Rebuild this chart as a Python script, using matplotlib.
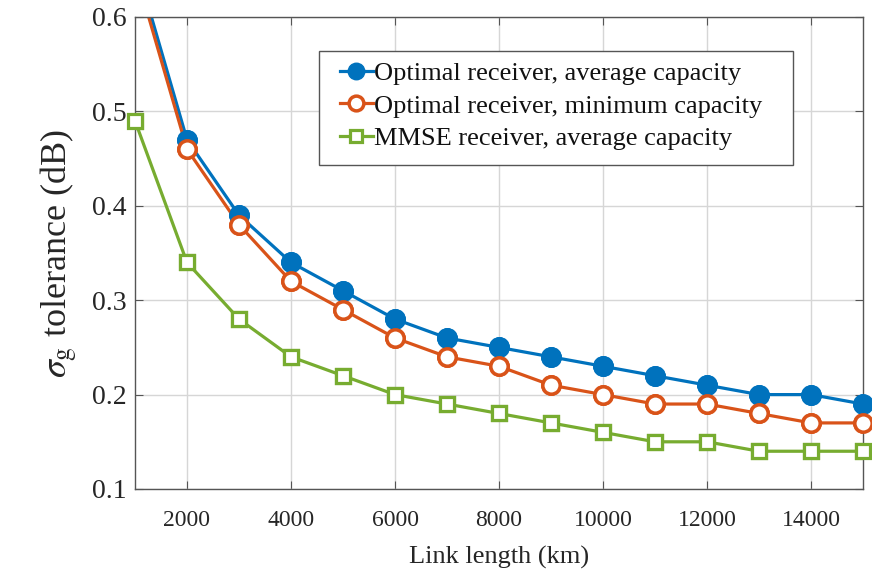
import numpy as np
import matplotlib.pyplot as plt
from matplotlib.patches import Rectangle

plt.rcParams['font.family'] = ['Liberation Serif', 'DejaVu Serif']
plt.rcParams['mathtext.fontset'] = 'stix'

link_km = np.arange(1000, 16000, 1000)
opt_avg = [0.66, 0.47, 0.39, 0.34, 0.31, 0.28, 0.26, 0.25, 0.24, 0.23, 0.22, 0.21, 0.20, 0.20, 0.19]
opt_min = [0.65, 0.46, 0.38, 0.32, 0.29, 0.26, 0.24, 0.23, 0.21, 0.20, 0.19, 0.19, 0.18, 0.17, 0.17]
mmse_avg = [0.49, 0.34, 0.28, 0.24, 0.22, 0.20, 0.19, 0.18, 0.17, 0.16, 0.15, 0.15, 0.14, 0.14, 0.14]
labels = ['Optimal receiver, average capacity',
          'Optimal receiver, minimum capacity',
          'MMSE receiver, average capacity']

styles = [
    dict(color='#0072BD', marker='o', ms=14, mfc='#0072BD', mec='#0072BD', mew=1),
    dict(color='#D95319', marker='o', ms=12.5, mfc='white', mec='#D95319', mew=2.5),
    dict(color='#77AC30', marker='s', ms=10, mfc='white', mec='#77AC30', mew=2.3),
]

W, H = 872, 575
fig = plt.figure(figsize=(W/100, H/100), dpi=100)
ax = fig.add_axes([135/W, 1-489/H, 728/W, 472/H])
ymin, ymax = 0.1, 0.6

for vals, lab, st in zip([opt_avg, opt_min, mmse_avg], labels, styles):
    vals = np.array(vals)
    # line clipped at the axes box, markers inside the range drawn whole
    ax.plot(link_km, vals, lw=2.3, label=lab, **st)
    inside = np.ma.masked_where(vals > ymax, vals)
    ax.plot(link_km, inside, ls='none', clip_on=False, zorder=3, **st)

ax.set_xlim(1000, 15000)
ax.set_ylim(ymin, ymax)
ax.set_xticks(np.arange(2000, 15000, 2000))
ax.set_yticks([0.1, 0.2, 0.3, 0.4, 0.5, 0.6])
ax.set_yticklabels(['0.1', '0.2', '0.3', '0.4', '0.5', '0.6'])
ax.grid(True, color='#d6d6d6', lw=1)
ax.set_axisbelow(True)
ax.tick_params(direction='in', top=True, right=True, length=6,
               color='#555555', labelcolor='#262626')
ax.tick_params(axis='x', labelsize=17, pad=15)
ax.tick_params(axis='y', labelsize=20, pad=6)
for s in ax.spines.values():
    s.set_color('#555555')
    s.set_linewidth(1)

ax.set_xlabel('Link length (km)', fontsize=19, labelpad=11, color='#262626')
ax.set_ylabel(r'$\sigma_{\rm g}$ tolerance (dB)', fontsize=26, labelpad=9,
              color='#262626')

# legend box drawn by hand so the padding is wider left/right than top/bottom
def px_to_axes(x, y):
    return (x - 135) / 728, (489 - y) / 472

x0, y1 = px_to_axes(319, 51)
x1, y0 = px_to_axes(793, 165)
ax.add_patch(Rectangle((x0, y0), x1 - x0, y1 - y0, transform=ax.transAxes,
                       facecolor='white', edgecolor='#555555', lw=1, zorder=4.5))

leg = ax.legend(loc='upper left', bbox_to_anchor=px_to_axes(340, 62),
                borderaxespad=0, fontsize=19, handlelength=1.25,
                handletextpad=0.05, borderpad=0, labelspacing=0.33,
                frameon=False, markerscale=0.85)
leg.set_zorder(5)
for t in leg.get_texts():
    t.set_color('#111111')

fig.savefig('out.png', dpi=100)
